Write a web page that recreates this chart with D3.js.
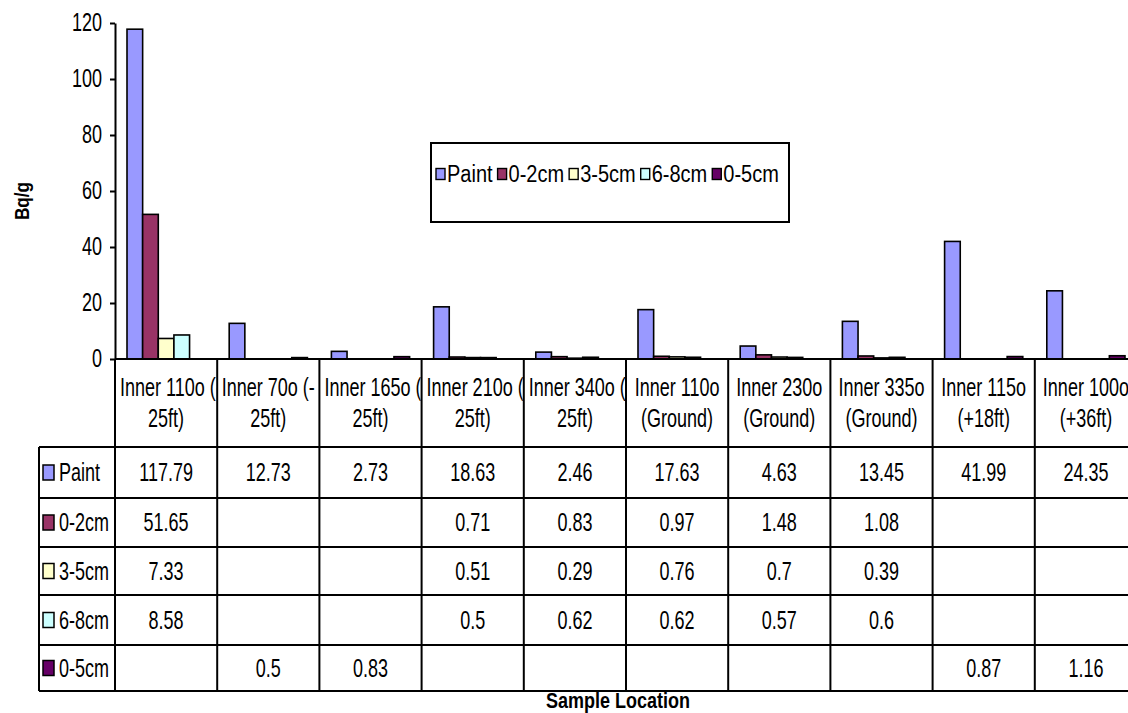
<!DOCTYPE html>
<html>
<head>
<meta charset="utf-8">
<script src="https://cdn.jsdelivr.net/npm/d3@7"></script>
<style>
  html, body { margin: 0; padding: 0; background: #fff; }
  svg { display: block; font-family: "Liberation Sans", Arial, sans-serif; }
</style>
</head>
<body>
<svg id="chart" width="1128" height="713"></svg>
<script>
// Sample locations (first line breaks after "(-" or before "(")
const categories = [
  "Inner 110o (-25ft)", "Inner 70o  (-25ft)", "Inner 165o (-25ft)", "Inner 210o (-25ft)",
  "Inner 340o (-25ft)", "Inner 110o (Ground)", "Inner 230o (Ground)", "Inner 335o (Ground)",
  "Inner 115o (+18ft)", "Inner 100o (+36ft)"
];
const seriesNames = ["Paint", "0-2cm", "3-5cm", "6-8cm", "0-5cm"];
const seriesColors = ["#9999FF", "#993366", "#FFFFCC", "#CCFFFF", "#660066"];

// Activity in Bq/g (null = not measured)
const paint = [117.79, 12.73, 2.73, 18.63, 2.46, 17.63, 4.63, 13.45, 41.99, 24.35];
const cm0to2 = [51.65, null, null, 0.71, 0.83, 0.97, 1.48, 1.08, null, null];
const cm3to5 = [7.33, null, null, 0.51, 0.29, 0.76, 0.7, 0.39, null, null];
const cm6to8 = [8.58, null, null, 0.5, 0.62, 0.62, 0.57, 0.6, null, null];
const cm0to5 = [null, 0.5, 0.83, null, null, null, null, null, 0.87, 1.16];

const yTicks = [0, 20, 40, 60, 80, 100, 120];

const seriesValues = [paint, cm0to2, cm3to5, cm6to8, cm0to5];

// ---- layout ----
const svg = d3.select("#chart");
const plotLeft = 115, plotRight = 1137, plotTop = 23, plotBottom = 359;
const headerBottom = 447;
const rowEdges = [447, 498, 547, 595, 645, 691];
const labelColLeft = 39;
const SY = 1.38;          // vertical text stretch
const FS = 18;
const lineW = 2;

const x = d3.scaleBand().domain(d3.range(categories.length)).range([plotLeft, plotRight]).padding(0);
const bw = x.bandwidth();
const xs = d3.scaleBand().domain(d3.range(seriesNames.length)).range([12, bw - 12]).padding(0);
const y = d3.scaleLinear().domain([0, 120]).range([plotBottom, plotTop]);

function stretchedText(g, tx, ty, str, opts = {}) {
  return g.append("text")
    .attr("transform", `translate(${tx},${ty}) scale(1,${opts.sy || SY})`)
    .attr("dy", "0.35em")
    .attr("text-anchor", opts.anchor || "middle")
    .attr("font-size", opts.fs || FS)
    .attr("font-weight", opts.weight || "normal")
    .attr("fill", "#000")
    .text(str);
}

// ---- bars ----
const barG = svg.append("g");
seriesValues.forEach((vals, si) => {
  barG.selectAll(null)
    .data(vals.map((v, ci) => ({ v, ci })).filter(d => d.v != null))
    .enter().append("rect")
    .attr("x", d => x(d.ci) + xs(si))
    .attr("width", xs.bandwidth())
    .attr("y", d => y(d.v))
    .attr("height", d => y(0) - y(d.v))
    .attr("fill", seriesColors[si])
    .attr("stroke", "#000")
    .attr("stroke-width", 1.6);
});

// ---- y axis ----
const yAxis = svg.append("g")
  .attr("transform", `translate(${plotLeft},0)`)
  .call(d3.axisLeft(y).tickValues(yTicks).tickSize(5).tickSizeOuter(0).tickPadding(8));
yAxis.select(".domain").attr("stroke", "#000").attr("stroke-width", lineW);
yAxis.selectAll(".tick line").attr("stroke", "#000").attr("stroke-width", lineW);
yAxis.selectAll(".tick text")
  .attr("font-size", FS)
  .attr("font-family", null)
  .attr("fill", "#000")
  .attr("transform", `scale(1,${SY})`);

svg.append("text")
  .attr("transform", `translate(22,201) rotate(-90) scale(0.86,1)`)
  .attr("dy", "0.35em")
  .attr("text-anchor", "middle")
  .attr("font-size", 20)
  .attr("font-weight", "bold")
  .text("Bq/g");

// ---- data table ----
const grid = svg.append("g").attr("stroke", "#000").attr("stroke-width", lineW).attr("fill", "none");
// category axis line / header top
grid.append("line").attr("x1", plotLeft).attr("x2", plotRight).attr("y1", plotBottom).attr("y2", plotBottom);
// horizontal row lines
rowEdges.forEach(ry => grid.append("line").attr("x1", labelColLeft).attr("x2", plotRight).attr("y1", ry).attr("y2", ry));
// vertical column lines
d3.range(categories.length + 1).forEach(i => {
  const cx = i < categories.length ? x(i) : plotRight;
  grid.append("line").attr("x1", cx).attr("x2", cx).attr("y1", plotBottom).attr("y2", rowEdges[rowEdges.length - 1]);
});
grid.append("line").attr("x1", labelColLeft).attr("x2", labelColLeft)
  .attr("y1", rowEdges[0]).attr("y2", rowEdges[rowEdges.length - 1]);

// category header text, clipped to its cell
const defs = svg.append("defs");
const headG = svg.append("g");
categories.forEach((name, i) => {
  const m = name.match(/^(.*\(-)(.*)$/) || name.match(/^(.*?)\s(\(.*)$/);
  const line1 = m[1], line2 = m[2];
  const cx0 = x(i), cw = bw;
  defs.append("clipPath").attr("id", "cell" + i)
    .append("rect").attr("x", cx0 + 1).attr("y", plotBottom).attr("width", cw - 2).attr("height", headerBottom - plotBottom);
  const cg = headG.append("g").attr("clip-path", `url(#cell${i})`);
  const t1 = stretchedText(cg, cx0 + cw / 2, 387, line1);
  const w1 = t1.node().getComputedTextLength();
  if (w1 > cw - 8) {
    t1.attr("text-anchor", "start").attr("transform", `translate(${cx0 + 5},387) scale(1,${SY})`);
  }
  stretchedText(cg, cx0 + cw / 2, 418, line2);
});

// rows: legend key + values
const rowG = svg.append("g");
seriesNames.forEach((s, si) => {
  const top = rowEdges[si], bot = rowEdges[si + 1], cy = (top + bot) / 2;
  rowG.append("rect")
    .attr("x", 43).attr("y", cy - 7.5).attr("width", 11).attr("height", 15)
    .attr("fill", seriesColors[si]).attr("stroke", "#000").attr("stroke-width", 1.5);
  stretchedText(rowG, 59, cy, s, { anchor: "start" });
  seriesValues[si].forEach((v, ci) => {
    if (v == null) return;
    stretchedText(rowG, x(ci) + bw / 2, cy, String(v));
  });
});

// x axis title
stretchedText(svg, 618, 700, "Sample Location", { weight: "bold", sy: 1.25 });

// ---- legend ----
const lg = svg.append("g");
lg.append("rect").attr("x", 431).attr("y", 143).attr("width", 358).attr("height", 79)
  .attr("fill", "#fff").attr("stroke", "#000").attr("stroke-width", lineW);
let lx = 436;
const ly = 174;
seriesNames.forEach((s, si) => {
  lg.append("rect").attr("x", lx).attr("y", ly - 5.5).attr("width", 9).attr("height", 11)
    .attr("fill", seriesColors[si]).attr("stroke", "#000").attr("stroke-width", 1.4);
  const t = stretchedText(lg, lx + 11, ly, s, { anchor: "start", fs: 20, sy: 1.15 });
  lx += 11 + t.node().getComputedTextLength() + 5;
});
</script>
</body>
</html>
